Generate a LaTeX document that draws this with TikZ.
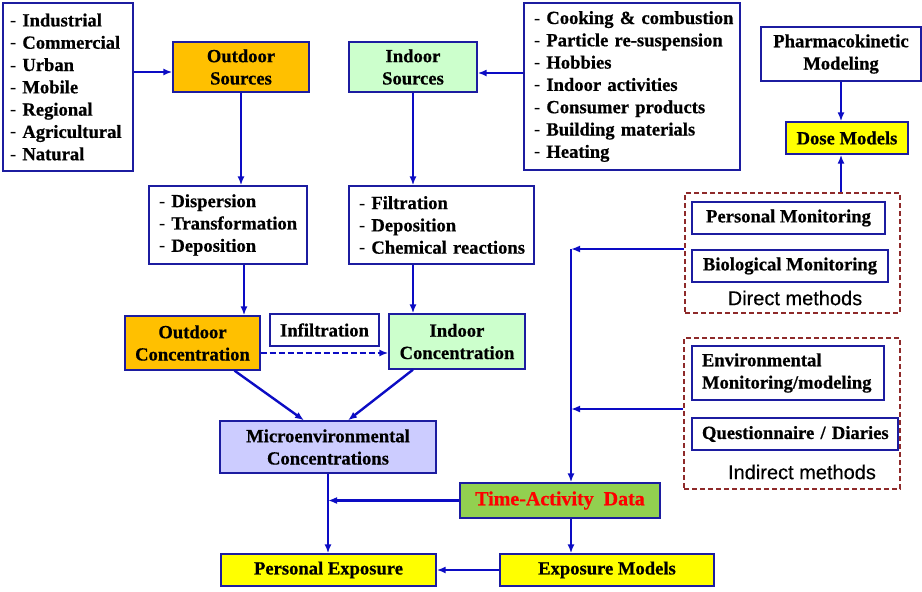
\documentclass[tikz,border=0pt]{standalone}
\usepackage{fontspec}
\setmainfont{Liberation Serif}[BoldFeatures={FakeBold=0.6}]
\newfontfamily\methfont{Liberation Sans}[FakeBold=0.3]
\usepackage{tikz}
\usetikzlibrary{arrows.meta}
\tikzset{>={Latex[length=9pt,width=7pt]}}
\definecolor{boxblue}{HTML}{1C1CA0}
\definecolor{arrblue}{HTML}{0C0CC4}
\definecolor{outorange}{HTML}{FFC000}
\definecolor{ingreen}{HTML}{CCFFCC}
\definecolor{microblue}{HTML}{CCCCFF}
\definecolor{doseyellow}{HTML}{FFFF00}
\definecolor{tagreen}{HTML}{92D050}
\definecolor{methred}{HTML}{8E2A2A}
\newcommand{\itm}[1]{\mbox{{\mdseries -} #1}}
\tikzset{
  box/.style={draw=boxblue, line width=1.3pt, inner sep=0pt, align=center,
    text=black, font=\fontsize{18.6}{22.3}\selectfont\bfseries},
  listbox/.style={box, align=left, inner xsep=8pt},
  methbox/.style={draw=methred, line width=1.8pt, dash pattern=on 5pt off 3pt, inner sep=0pt},
  methlabel/.style={font=\methfont\fontsize{20}{24}\selectfont, text=black},
  arr/.style={->, draw=arrblue, line width=2.4pt}
}
\begin{document}
\begin{tikzpicture}[x=1pt, y=-1pt]
  \useasboundingbox (0,0) rectangle (922,592);

  \node[listbox, inner xsep=7pt, text width=116pt, minimum height=168pt] (outlist) at (68,87)
    {\itm{Industrial}\\ \itm{Commercial}\\ \itm{Urban}\\ \itm{Mobile}\\ \itm{Regional}\\ \itm{Agricultural}\\ \itm{Natural}};
  \node[box, fill=outorange, minimum width=136pt, minimum height=50pt] (outsrc) at (241,67) {Outdoor\\Sources};
  \node[box, fill=ingreen, minimum width=128pt, minimum height=50pt] (insrc) at (413,67) {Indoor\\Sources};
  \node[listbox, inner xsep=10pt, text width=196pt, minimum height=167pt] (inlist) at (632,86.5)
    {\itm{Cooking \& combustion}\\ \itm{Particle re-suspension}\\ \itm{Hobbies}\\ \itm{Indoor activities}\\ \itm{Consumer products}\\ \itm{Building materials}\\ \itm{Heating}};

  \node[listbox, inner xsep=10pt, text width=138pt, minimum height=78pt] (outproc) at (228,225)
    {\itm{Dispersion}\\ \itm{Transformation}\\ \itm{Deposition}};
  \node[listbox, inner xsep=10pt, text width=165pt, minimum height=78pt] (inproc) at (441.5,225)
    {\itm{Filtration}\\ \itm{Deposition}\\ \itm{Chemical reactions}};

  \node[box, fill=outorange, minimum width=135pt, minimum height=54pt] (outconc) at (192.5,343) {Outdoor\\Concentration};
  \node[box, minimum width=109pt, minimum height=32pt] (infil) at (324.5,330) {Infiltration};
  \node[box, fill=ingreen, minimum width=136pt, minimum height=55pt] (inconc) at (457,341.5) {Indoor\\Concentration};
  \node[box, fill=microblue, minimum width=216pt, minimum height=52pt] (micro) at (328,447) {Microenvironmental\\Concentrations};

  \node[box, fill=tagreen, minimum width=200pt, minimum height=35pt, text=red,
    font=\fontsize{20}{24}\selectfont\bfseries] (tad) at (560,500.5) {Time-Activity\ \ Data};
  \node[box, fill=doseyellow, minimum width=215pt, minimum height=32pt] (persexp) at (328.5,570) {Personal Exposure};
  \node[box, fill=doseyellow, minimum width=214pt, minimum height=32pt] (expmod) at (607,570) {Exposure Models};

  \node[box, minimum width=160pt, minimum height=54pt] (pharma) at (841,54) {Pharmacokinetic\\Modeling};
  \node[box, fill=doseyellow, minimum width=122pt, minimum height=32pt] (dose) at (847,138) {Dose Models};

  \node[methbox, minimum width=215pt, minimum height=120pt] (direct) at (792.5,253) {};
  \node[box, minimum width=193pt, minimum height=32pt] (persmon) at (788.5,218) {Personal Monitoring};
  \node[box, minimum width=196pt, minimum height=32pt] (biomon) at (790,266) {Biological Monitoring};
  \node[methlabel] (dirlabel) at (795,298) {Direct methods};

  \node[methbox, minimum width=216pt, minimum height=151pt] (indirect) at (792,413.5) {};
  \node[listbox, inner xsep=10pt, text width=172pt, minimum height=54pt] (envmon) at (788,373)
    {\mbox{Environmental}\\ \mbox{Monitoring/modeling}};
  \node[listbox, inner xsep=10pt, text width=186pt, minimum height=32pt] (quest) at (795,434)
    {\mbox{Questionnaire / Diaries}};
  \node[methlabel] (indlabel) at (802,472) {Indirect methods};

  \coordinate (dirjoin) at (571,249);
  \coordinate (indjoin) at (571,409);

  \draw[arr] ([yshift=-5pt]outlist.east |- outsrc.west) -- ([yshift=-5pt]outsrc.west);
  \draw[arr] ([yshift=-6pt]inlist.west |- insrc.east) -- ([yshift=-6pt]insrc.east);
  \draw[arr] (outsrc.south) -- (outsrc.south |- outproc.north);
  \draw[arr] (insrc.south) -- (insrc.south |- inproc.north);
  \draw[arr] ([xshift=3pt]outsrc.south |- outproc.south) -- ([xshift=3pt]outsrc.south |- outconc.north);
  \draw[arr] (insrc.south |- inproc.south) -- (insrc.south |- inconc.north);
  \draw[arr, dash pattern=on 6pt off 3pt] ([yshift=-10pt]outconc.east) -- ([yshift=-10pt]outconc.east -| inconc.west);
  \draw[arr] ([xshift=42pt]outconc.south) -- ([xshift=-24pt]micro.north);
  \draw[arr] ([xshift=-44pt]inconc.south) -- ([xshift=20pt]micro.north);
  \draw[arr] (micro.south) -- (micro.south |- persexp.north);
  \draw[arr] (tad.west) -- (micro.south |- tad.west);
  \draw[arr] (expmod.west) -- (persexp.east);
  \draw[arr] (direct.west |- dirjoin) -- (dirjoin);
  \draw[arr] (indirect.west |- indjoin) -- (indjoin);
  \draw[arr] (dirjoin) -- (dirjoin |- tad.north);
  \draw[arr] (dirjoin |- tad.south) -- (dirjoin |- expmod.north);
  \draw[arr] (pharma.south) -- (pharma.south |- dose.north);
  \draw[arr] (direct.north -| pharma.south) -- (pharma.south |- dose.south);
\end{tikzpicture}
\end{document}
